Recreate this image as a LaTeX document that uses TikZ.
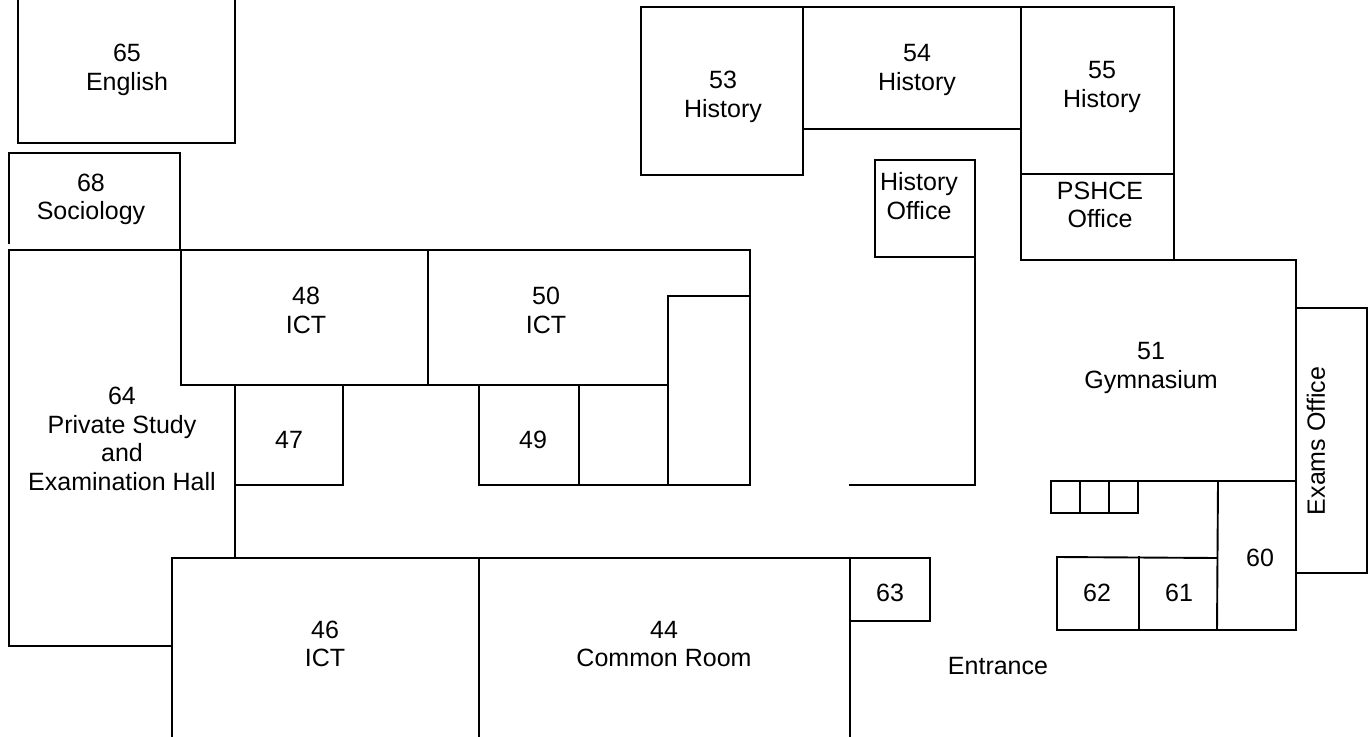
\documentclass[tikz,border=0pt]{standalone}
\usepackage{fontspec}
\setmainfont{Liberation Sans}
\tikzset{wall/.style={line width=1.9pt,line cap=rect,line join=miter,black},
lbl/.style={font=\fontsize{25}{28.7}\selectfont,align=center,inner sep=0pt,text=black}}
\begin{document}
\begin{tikzpicture}[x=1pt,y=-1pt]
\useasboundingbox (0,0) rectangle (1372,736);
\clip (0,0) rectangle (1372,736);
\draw[wall] (18,-5)--(18,143)--(235,143)--(235,-5);
\draw[wall] (9,243)--(9,153)--(180,153)--(180,250);
\draw[wall] (750,250)--(9,250)--(9,646)--(172,646);
\draw[wall] (181,250)--(181,385)--(668,385);
\draw[wall] (428,250)--(428,385);
\draw[wall] (750,250)--(750,485)--(479,485)--(479,385);
\draw[wall] (750,296)--(668,296)--(668,485);
\draw[wall] (579,385)--(579,485);
\draw[wall] (235,385)--(235,558);
\draw[wall] (343,385)--(343,485)--(235,485);
\draw[wall] (172,740)--(172,558)--(930,558)--(930,621)--(850,621);
\draw[wall] (479,558)--(479,740);
\draw[wall] (850,558)--(850,740);
\draw[wall] (850,485)--(975,485)--(975,160)--(875,160)--(875,257)--(975,257);
\draw[wall] (803,175)--(641,175)--(641,7)--(1174,7)--(1174,260);
\draw[wall] (803,7)--(803,175);
\draw[wall] (803,129)--(1021,129);
\draw[wall] (1021,7)--(1021,260)--(1296,260)--(1296,630);
\draw[wall] (1021,174)--(1174,174);
\draw[wall] (1296,308)--(1367,308)--(1367,573)--(1296,573);
\draw[wall] (1296,481)--(1051,481)--(1051,513)--(1138,513)--(1138,481);
\draw[wall] (1080,481)--(1080,513);
\draw[wall] (1109,481)--(1109,513);
\draw[wall] (1218,481)--(1217,630);
\draw[wall] (1296,630)--(1057,630)--(1057,557)--(1217,558);
\draw[wall] (1139,557)--(1139,630);
\node[lbl] (r65) at (127,70) {65\\English};
\node[lbl] (r68) at (91,199.5) {68\\Sociology};
\node[lbl] (r48) at (306,310.5) {48\\ICT};
\node[lbl] (r50) at (546,310.5) {50\\ICT};
\node[lbl] (r64) at (122,439) {64\\Private Study\\and\\Examination Hall};
\node[lbl] (r47) at (289,440) {47};
\node[lbl] (r49) at (533,440) {49};
\node[lbl] (r46) at (325,644) {46\\ICT};
\node[lbl] (r44) at (664,644) {44\\Common Room};
\node[lbl] (r63) at (890,593) {63};
\node[lbl] (ent) at (998,666) {Entrance};
\node[lbl] (r53) at (723,97) {53\\History};
\node[lbl] (r54) at (917,70) {54\\History};
\node[lbl] (r55) at (1102,87) {55\\History};
\node[lbl] (ho) at (919,196) {History\\Office};
\node[lbl] (ps) at (1100,205) {PSHCE\\Office};
\node[lbl] (r51) at (1151,368) {51\\Gymnasium};
\node[lbl,rotate=90] (ex) at (1316,441) {Exams Office};
\node[lbl] (r60) at (1260,558) {60};
\node[lbl] (r62) at (1097,593) {62};
\node[lbl] (r61) at (1179,593) {61};
\end{tikzpicture}
\end{document}
